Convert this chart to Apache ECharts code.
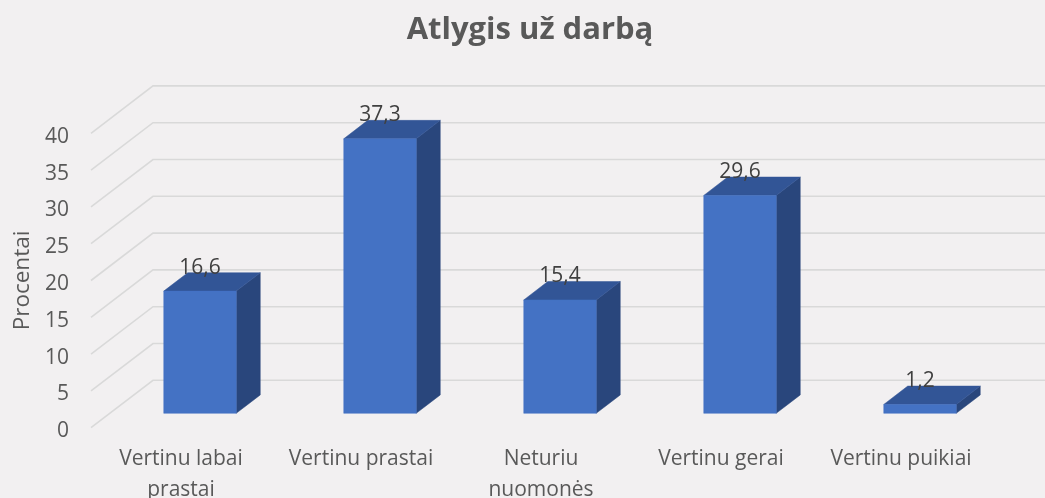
<!DOCTYPE html>
<html>
<head>
<meta charset="utf-8">
<style>html,body{margin:0;padding:0;background:#f2f0f1}#c{width:1045px;height:498px}</style>
<script src="https://cdn.jsdelivr.net/npm/echarts@6/dist/echarts.min.js"></script>
</head>
<body>
<div id="c"></div>
<script>
const titleText = 'Atlygis už darbą';
const yName = 'Procentai';
const categories = ['Vertinu labai\nprastai', 'Vertinu prastai', 'Neturiu\nnuomonės', 'Vertinu gerai', 'Vertinu puikiai'];
const values = [16.6, 37.3, 15.4, 29.6, 1.2];
const tickValues = [0, 5, 10, 15, 20, 25, 30, 35, 40];

const FONT = '"Open Sans", sans-serif';
const WALL_DX = 62, WALL_DY = 47.4;   // depth of the floor
const BAR_DX = 24, BAR_DY = 18.4;     // depth of each bar
const INSET_DX = 19, INSET_DY = 14.4; // bar front plane inset from chart front plane
const BAR_W = 72.5;

function renderGrid(params, api) {
  const v = api.value(1);
  const band = api.size([1, 0])[0];
  const a = api.coord([0, v]);
  const b = api.coord([categories.length - 1, v]);
  const x0 = a[0] - band / 2, y0 = a[1];
  const x1 = x0 + WALL_DX, y1 = y0 - WALL_DY;
  const x2 = b[0] + band / 2 + WALL_DX;
  return {
    type: 'polyline',
    shape: { points: [[x0, y0], [x1, y1], [x2, y1]] },
    style: { stroke: '#d9d9d9', lineWidth: 1.6, fill: 'none' }
  };
}

function renderBar(params, api) {
  const c = api.value(0), v = api.value(1);
  const top = api.coord([c, v]);
  const base = api.coord([c, 0]);
  const xl = top[0] + INSET_DX - BAR_W / 2;
  const xr = xl + BAR_W;
  const yt = top[1] - INSET_DY;
  const yb = base[1] - INSET_DY;
  const poly = (pts, fill) => ({ type: 'polygon', shape: { points: pts }, style: { fill: fill, stroke: fill, lineWidth: 0.5 } });
  return {
    type: 'group',
    children: [
      poly([[xr, yt], [xr + BAR_DX, yt - BAR_DY], [xr + BAR_DX, yb - BAR_DY], [xr, yb]], '#29467c'),
      poly([[xl, yt], [xl + BAR_DX, yt - BAR_DY], [xr + BAR_DX, yt - BAR_DY], [xr, yt]], '#325596'),
      poly([[xl, yt], [xr, yt], [xr, yb], [xl, yb]], '#4472c4'),
      {
        type: 'text',
        style: {
          x: (xl + xr) / 2, y: yt - 23.5,
          text: String(v).replace('.', ','),
          fill: '#404040', font: '21px ' + FONT,
          textAlign: 'center', textVerticalAlign: 'middle'
        }
      }
    ]
  };
}

const chart = echarts.init(document.getElementById('c'), null, { renderer: 'canvas', width: 1045, height: 498 });
chart.setOption({
  animation: false,
  backgroundColor: '#f2f0f1',
  title: {
    text: titleText, left: 525, top: 10, textAlign: 'center',
    textStyle: { fontFamily: FONT, fontSize: 31, fontWeight: 'bold', color: '#595959' }
  },
  grid: { left: 91, top: 133.3, width: 900, height: 294.4, outerBoundsMode: 'none', containLabel: false },
  xAxis: {
    type: 'category', data: categories,
    axisLine: { show: false }, axisTick: { show: false }, splitLine: { show: false },
    axisLabel: { color: '#595959', fontFamily: FONT, fontSize: 21, lineHeight: 31, margin: 16, interval: 0 }
  },
  yAxis: {
    type: 'value', min: 0, max: 40, interval: 5,
    name: yName, nameLocation: 'middle', nameGap: 55, nameRotate: 90,
    nameTextStyle: { color: '#595959', fontFamily: FONT, fontSize: 22.5 },
    axisLine: { show: false }, axisTick: { show: false }, splitLine: { show: false },
    axisLabel: {
      margin: 22,
      formatter: '{t|{value}}',
      rich: { t: { color: '#595959', fontFamily: FONT, fontSize: 21, padding: [7, 0, 0, 0] } }
    }
  },
  series: [
    { type: 'custom', name: 'grid', silent: true, z: 1, clip: false, renderItem: renderGrid,
      encode: { x: 0, y: 1 }, data: tickValues.map(v => [0, v]) },
    { type: 'custom', name: 'bars', z: 2, clip: false, renderItem: renderBar,
      encode: { x: 0, y: 1 }, data: values.map((v, i) => [i, v]) }
  ]
});
</script>
</body>
</html>
